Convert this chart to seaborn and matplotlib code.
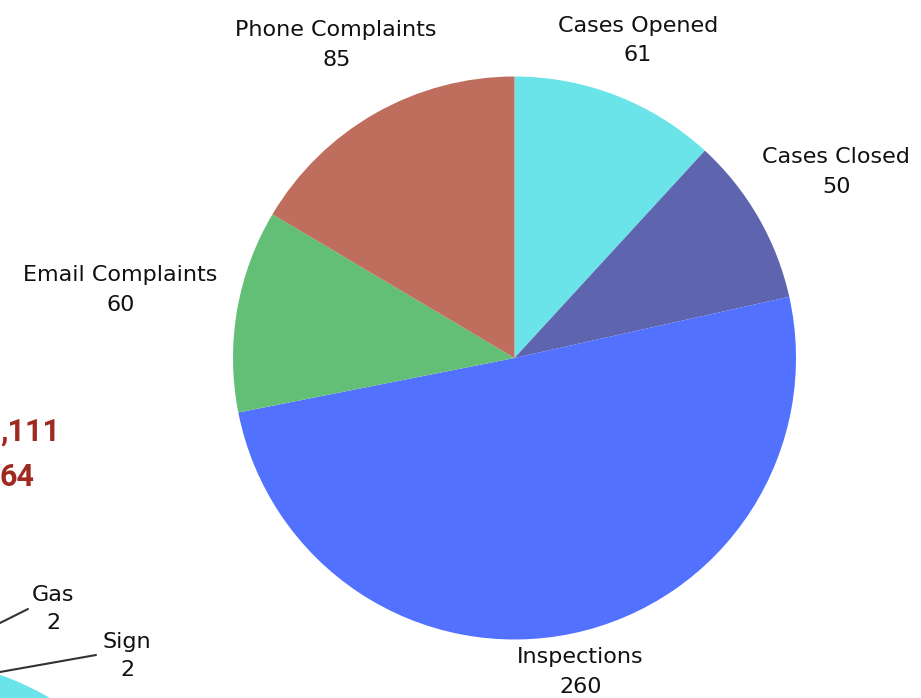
import numpy as np
import matplotlib
matplotlib.use("Agg")
import matplotlib.pyplot as plt
import seaborn as sns
from matplotlib.lines import Line2D

# ---- data ----
categories = ["Cases Opened", "Cases Closed", "Inspections", "Email Complaints", "Phone Complaints"]
values = [61, 50, 260, 60, 85]
colors = ["#6AE4E9", "#5E64AE", "#5271FF", "#64BF76", "#BF6E5E"]

# fragments of neighbouring charts that are cut by the frame
other_labels = ["Gas", "Sign"]
other_values = [2, 2]
other_colors = ["#6AE4E9"]
totals_fragments = [",111", "64"]

sns.set_theme(style="white")
plt.rcParams['font.family'] = ['DejaVu Sans']

W, H = 921, 698
fig = plt.figure(figsize=(W / 100, H / 100), dpi=100)
fig.patch.set_facecolor("white")

# main pie: centre (514.5, 358) px from top-left, radius 281.5 px
cx, cy, r = 514.5, 358, 281.5
ax = fig.add_axes([(cx - r) / W, (H - cy - r) / H, 2 * r / W, 2 * r / H])
wedges, _ = ax.pie(values, colors=sns.color_palette(colors), startangle=90,
                   counterclock=False, wedgeprops=dict(linewidth=0))
ax.set_xlim(-1, 1)
ax.set_ylim(-1, 1)
ax.set_aspect("equal")
ax.axis("off")

# label distances (layout, in pie radii)
label_dist = [1.21, 1.32, 1.14, 1.42, 1.28]
for w, lab, v, d in zip(wedges, categories, values, label_dist):
    ang = np.deg2rad((w.theta1 + w.theta2) / 2)
    x, y = d * np.cos(ang), d * np.sin(ang)
    ax.text(x, y, f"{lab}\n{v}", ha="center", va="center", fontsize=16,
            color="#111111", linespacing=1.6, clip_on=False)

# neighbouring pie fragment (bottom-left)
ocx, ocy, orr = -93, 940, 281
ax2 = fig.add_axes([(ocx - orr) / W, (H - ocy - orr) / H, 2 * orr / W, 2 * orr / H])
ax2.pie([1], colors=other_colors, wedgeprops=dict(linewidth=0))
ax2.set_xlim(-1, 1)
ax2.set_ylim(-1, 1)
ax2.set_aspect("equal")
ax2.axis("off")

def fx(px):
    return px / W

def fy(py):
    return 1 - py / H

other_pos = [(53, 609), (127, 656)]
leader = [((0, 623), (28, 609)), ((0, 672), (96, 655))]
for lab, v, (px, py), (p0, p1) in zip(other_labels, other_values, other_pos, leader):
    fig.text(fx(px), fy(py), f"{lab}\n{v}", ha="center", va="center", fontsize=16,
             color="#111111", linespacing=1.5)
    fig.add_artist(Line2D([fx(p0[0]), fx(p1[0])], [fy(p0[1]), fy(p1[1])],
                          color="#333333", linewidth=1.5))

# cut-off totals from the neighbouring panel
fig.text(fx(0), fy(441), totals_fragments[0], ha="left", va="baseline", fontsize=22,
         fontweight="bold", color="#9E2A22", family=["Roboto"])
fig.text(fx(34), fy(486), totals_fragments[1], ha="right", va="baseline", fontsize=22,
         fontweight="bold", color="#9E2A22", family=["Roboto"])

fig.savefig("out.png", dpi=100, facecolor="white")
